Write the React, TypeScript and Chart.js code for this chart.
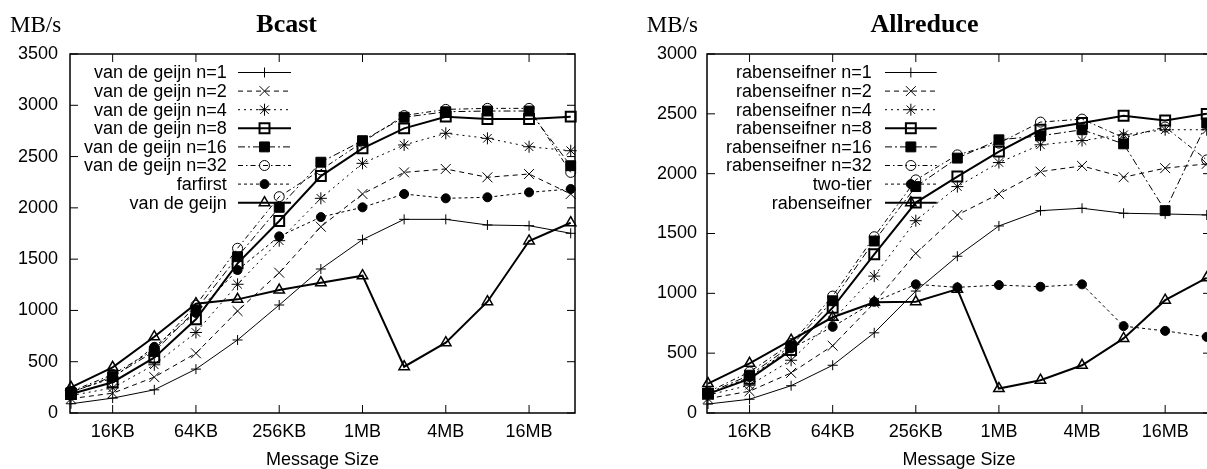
import React, { useEffect, useRef } from 'react';
import { Chart, registerables } from 'chart.js';
import { drawPoint } from 'chart.js/helpers';

Chart.register(...registerables);

const SANS = "'Liberation Sans', Arial, Helvetica, sans-serif";
const SERIF = "'Liberation Serif', 'Times New Roman', Times, serif";

// ---- categories (message sizes) ----
const SIZES = ['8KB', '16KB', '32KB', '64KB', '128KB', '256KB', '512KB', '1MB', '2MB', '4MB', '8MB', '16MB', '32MB'];
const SIZE_BYTES = [8192, 16384, 32768, 65536, 131072, 262144, 524288, 1048576, 2097152, 4194304, 8388608, 16777216, 33554432];

// ---- tick labels ----
const X_TICK_LABELS = ['16KB', '64KB', '256KB', '1MB', '4MB', '16MB'];
const X_TICK_BYTES = [16384, 65536, 262144, 1048576, 4194304, 16777216];
const BCAST_Y_TICKS = [0, 500, 1000, 1500, 2000, 2500, 3000, 3500];
const ALLRED_Y_TICKS = [0, 500, 1000, 1500, 2000, 2500, 3000];

// ---- Bcast series (MB/s) ----
const BCAST_LABELS = ['van de geijn n=1', 'van de geijn n=2', 'van de geijn n=4', 'van de geijn n=8', 'van de geijn n=16', 'van de geijn n=32', 'farfirst', 'van de geijn'];
const bcastN1 = [90, 145, 226, 428, 712, 1053, 1404, 1690, 1888, 1888, 1833, 1826, 1752];
const bcastN2 = [140, 193, 350, 582, 994, 1368, 1816, 2135, 2346, 2379, 2298, 2330, 2135];
const bcastN4 = [170, 245, 470, 785, 1255, 1680, 2093, 2434, 2613, 2727, 2678, 2596, 2557];
const bcastN8 = [185, 300, 540, 913, 1459, 1872, 2310, 2580, 2775, 2889, 2866, 2866, 2889];
const bcastN16 = [200, 355, 600, 1004, 1524, 2005, 2445, 2655, 2883, 2937, 2944, 2944, 2411];
const bcastN32 = [210, 375, 615, 1050, 1606, 2109, 2370, 2640, 2900, 2960, 2970, 2970, 2346];
const bcastFarfirst = [205, 340, 645, 975, 1394, 1722, 1910, 2005, 2135, 2093, 2103, 2151, 2184];
const bcastVdg = [250, 445, 744, 1066, 1108, 1199, 1270, 1339, 451, 685, 1085, 1677, 1855];

// ---- Allreduce series (MB/s) ----
const ALLRED_LABELS = ['rabenseifner n=1', 'rabenseifner n=2', 'rabenseifner n=4', 'rabenseifner n=8', 'rabenseifner n=16', 'rabenseifner n=32', 'two-tier', 'rabenseifner'];
const allN1 = [75, 115, 228, 399, 670, 1019, 1310, 1563, 1691, 1711, 1669, 1663, 1655];
const allN2 = [120, 182, 335, 562, 920, 1334, 1655, 1831, 2017, 2065, 1970, 2046, 2082];
const allN4 = [150, 232, 441, 776, 1144, 1607, 1892, 2093, 2241, 2277, 2325, 2367, 2367];
const allN8 = [160, 285, 525, 880, 1326, 1758, 1976, 2185, 2367, 2423, 2484, 2444, 2500];
const allN16 = [165, 316, 560, 938, 1437, 1892, 2130, 2283, 2316, 2367, 2249, 1691, 2423];
const allN32 = [175, 343, 580, 977, 1473, 1948, 2157, 2255, 2431, 2456, 2300, 2390, 2115];
const allTwoTier = [155, 300, 540, 720, 929, 1075, 1050, 1069, 1055, 1075, 726, 686, 636];
const allRab = [246, 415, 608, 800, 925, 929, 1035, 204, 274, 399, 623, 943, 1130];

// ---- styles (not data) ----
type Style = { pointStyle: string; radius: number; lineWidth: number; dash: number[]; pointBorder: number; filled: boolean };
const STYLES: Style[] = [
  { pointStyle: 'cross', radius: 5, lineWidth: 1, dash: [], pointBorder: 1, filled: false },
  { pointStyle: 'crossRot', radius: 7, lineWidth: 1, dash: [5, 4], pointBorder: 1, filled: false },
  { pointStyle: 'star', radius: 6, lineWidth: 1, dash: [2, 4], pointBorder: 1, filled: false },
  { pointStyle: 'rect', radius: 7, lineWidth: 2, dash: [], pointBorder: 2, filled: false },
  { pointStyle: 'rect', radius: 7, lineWidth: 1, dash: [7, 3, 2, 3], pointBorder: 1, filled: true },
  { pointStyle: 'circle', radius: 5, lineWidth: 1, dash: [5, 3, 1.5, 3], pointBorder: 1, filled: false },
  { pointStyle: 'circle', radius: 4.5, lineWidth: 1, dash: [3, 3], pointBorder: 1, filled: true },
  { pointStyle: 'triangle', radius: 6, lineWidth: 2, dash: [], pointBorder: 1.5, filled: false },
];

// x range slightly wider than data (layout)
const X_MIN = SIZE_BYTES[0] * Math.pow(2, -0.024);
const X_MAX = SIZE_BYTES[SIZE_BYTES.length - 1] * Math.pow(2, 0.103);

type PanelCfg = {
  left: number; width: number; yAxisWidth: number; padRight: number; yPad: number;
  title: string; titleX: number; mbsX: number;
  legendTextRight: number; sampleX0: number; sampleX1: number;
  yMax: number; yTicks: number[]; labels: string[]; series: number[][];
};

const BCAST_PANEL: PanelCfg = {
  left: 0, width: 600, yAxisWidth: 70, padRight: 25, yPad: 12,
  title: 'Bcast', titleX: 286.7, mbsX: 10,
  legendTextRight: 226.7, sampleX0: 238, sampleX1: 291,
  yMax: 3500, yTicks: BCAST_Y_TICKS, labels: BCAST_LABELS,
  series: [bcastN1, bcastN2, bcastN4, bcastN8, bcastN16, bcastN32, bcastFarfirst, bcastVdg],
};

const ALLRED_PANEL: PanelCfg = {
  left: 600, width: 620, yAxisWidth: 107, padRight: 8, yPad: 10,
  title: 'Allreduce', titleX: 324.5, mbsX: 46.7,
  legendTextRight: 271.7, sampleX0: 285, sampleX1: 336.7,
  yMax: 3000, yTicks: ALLRED_Y_TICKS, labels: ALLRED_LABELS,
  series: [allN1, allN2, allN4, allN8, allN16, allN32, allTwoTier, allRab],
};

const LEGEND_Y0 = 72.5;
const LEGEND_DY = 18.6;

function buildDatasets(labels: string[], series: number[][]) {
  return series.map((vals, i) => {
    const st = STYLES[i];
    return {
      label: labels[i],
      data: SIZE_BYTES.map((b, j) => ({ x: b, y: vals[j] })),
      borderColor: '#000',
      borderWidth: st.lineWidth,
      borderDash: st.dash,
      pointStyle: st.pointStyle,
      pointRadius: st.radius,
      pointBorderWidth: st.pointBorder,
      pointBorderColor: '#000',
      pointBackgroundColor: st.filled ? '#000' : 'rgba(0,0,0,0)',
      fill: false,
      tension: 0,
      clip: false,
    };
  });
}

function makeDecor(p: PanelCfg) {
  return {
    id: 'decor',
    beforeDatasetsDraw(chart: any) {
      const ctx = chart.ctx as CanvasRenderingContext2D;
      ctx.save();
      ctx.textAlign = 'right';
      ctx.textBaseline = 'middle';
      p.labels.forEach((label, i) => {
        const st = STYLES[i];
        const y = LEGEND_Y0 + i * LEGEND_DY;
        ctx.font = `18px ${SANS}`;
        ctx.fillStyle = '#000';
        ctx.fillText(label, p.legendTextRight, y + 1);
        ctx.strokeStyle = '#000';
        ctx.lineWidth = st.lineWidth;
        ctx.setLineDash(st.dash);
        ctx.beginPath();
        ctx.moveTo(p.sampleX0, y);
        ctx.lineTo(p.sampleX1, y);
        ctx.stroke();
        ctx.setLineDash([]);
        ctx.lineWidth = st.pointBorder;
        ctx.fillStyle = st.filled ? '#000' : 'rgba(0,0,0,0)';
        drawPoint(ctx, { pointStyle: st.pointStyle as any, radius: st.radius, rotation: 0, borderWidth: st.pointBorder } as any, (p.sampleX0 + p.sampleX1) / 2, y);
      });
      ctx.restore();
    },
    afterDraw(chart: any) {
      const ctx = chart.ctx as CanvasRenderingContext2D;
      const { left, right, top, bottom } = chart.chartArea;
      const xs = chart.scales.x;
      const ys = chart.scales.y;
      ctx.save();
      ctx.setLineDash([]);
      ctx.strokeStyle = '#000';
      ctx.lineWidth = 1.5;
      ctx.strokeRect(left, top, right - left, bottom - top);
      ctx.lineWidth = 1;
      const seg = (x0: number, y0: number, x1: number, y1: number) => {
        ctx.beginPath(); ctx.moveTo(x0, y0); ctx.lineTo(x1, y1); ctx.stroke();
      };
      X_TICK_BYTES.forEach((v) => {
        const px = xs.getPixelForValue(v);
        seg(px, bottom, px, bottom - 8);
        seg(px, top, px, top + 8);
      });
      p.yTicks.forEach((v) => {
        const py = ys.getPixelForValue(v);
        seg(left, py, left + 8, py);
        seg(right, py, right - 8, py);
      });
      ctx.fillStyle = '#000';
      ctx.textBaseline = 'alphabetic';
      ctx.font = `bold 26px ${SERIF}`;
      ctx.textAlign = 'center';
      ctx.fillText(p.title, p.titleX, 31.5);
      ctx.font = `23px ${SERIF}`;
      ctx.textAlign = 'left';
      ctx.fillText('MB/s', p.mbsX, 31.5);
      ctx.font = `18px ${SANS}`;
      ctx.textAlign = 'center';
      ctx.fillText('Message Size', (left + right) / 2, 464.5);
      ctx.restore();
    },
  };
}

function Panel({ cfg }: { cfg: PanelCfg }) {
  const ref = useRef<HTMLCanvasElement>(null);
  useEffect(() => {
    const canvas = ref.current!;
    const chart = new Chart(canvas, {
      type: 'line',
      data: { datasets: buildDatasets(cfg.labels, cfg.series) as any },
      options: {
        responsive: false,
        animation: false,
        devicePixelRatio: 1,
        layout: { padding: { top: 54, right: cfg.padRight, left: 0, bottom: 0 } },
        plugins: { legend: { display: false }, tooltip: { enabled: false }, title: { display: false } },
        scales: {
          x: {
            type: 'logarithmic',
            min: X_MIN,
            max: X_MAX,
            afterBuildTicks: (s: any) => { s.ticks = X_TICK_BYTES.map((v) => ({ value: v })); },
            afterFit: (s: any) => { s.height = 56; },
            ticks: {
              autoSkip: false, maxRotation: 0, minRotation: 0, padding: 8,
              font: { family: SANS, size: 18 }, color: '#000',
              callback: (_v: any, i: number) => X_TICK_LABELS[i],
            },
            grid: { display: false, drawTicks: false },
            border: { display: false },
          },
          y: {
            type: 'linear',
            min: 0,
            max: cfg.yMax,
            afterBuildTicks: (s: any) => { s.ticks = cfg.yTicks.map((v) => ({ value: v })); },
            afterFit: (s: any) => { s.width = cfg.yAxisWidth; },
            ticks: { padding: cfg.yPad, font: { family: SANS, size: 18 }, color: '#000', callback: (v: any) => String(v) },
            grid: { display: false, drawTicks: false },
            border: { display: false },
          },
        },
      } as any,
      plugins: [makeDecor(cfg)],
    });
    return () => chart.destroy();
  }, [cfg]);
  return (
    <canvas
      ref={ref}
      width={cfg.width}
      height={469}
      style={{ position: 'absolute', left: cfg.left, top: 0, width: cfg.width, height: 469, display: 'block' }}
    />
  );
}

export default function App() {
  return (
    <div style={{ position: 'fixed', left: 0, top: 0, width: 1207, height: 469, overflow: 'hidden', background: '#fff' }}>
      <Panel cfg={BCAST_PANEL} />
      <Panel cfg={ALLRED_PANEL} />
    </div>
  );
}
